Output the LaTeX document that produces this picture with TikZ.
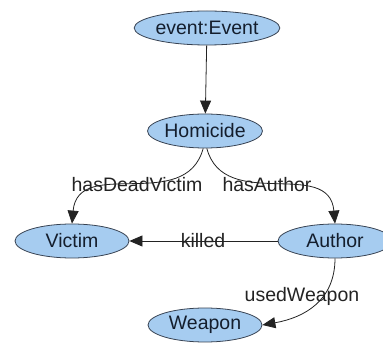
\documentclass[tikz,border=0pt]{standalone}
\usepackage{fontspec}
\setmainfont{Liberation Sans}
\usepackage{tikz}
\usetikzlibrary{arrows.meta,positioning,shapes.geometric}
\definecolor{conceptfill}{RGB}{166,204,240}
\definecolor{conceptdraw}{RGB}{55,66,82}
\definecolor{concepttext}{RGB}{20,30,45}
\definecolor{relcolor}{RGB}{35,35,35}

\begin{document}
\begin{tikzpicture}[
    x=1pt, y=-1pt,
    concept/.style={
        ellipse, draw=conceptdraw, thick, fill=conceptfill,
        minimum width=114pt, minimum height=34pt, inner sep=0pt,
        font=\fontsize{19.5}{21}\selectfont, text=concepttext
    },
    relation/.style={-{Triangle[length=13pt,width=11pt]}, thick, relcolor},
    rlabel/.style={font=\fontsize{19.5}{21}\selectfont, text=relcolor, inner sep=1pt}
]
\useasboundingbox (0,0) rectangle (383,347);

% Konzepte
\node[concept, minimum width=138pt] (event) at (207,28) {event:Event};
\node[concept] (homicide) at (205,131) {Homicide};
\node[concept] (victim) at (72,241) {Victim};
\node[concept] (author) at (335,241) {Author};
\node[concept] (weapon) at (205,325) {Weapon};

% Relationen
\draw[relation] (event) -- (homicide);
\draw[relation] (homicide.-96) to[out=-105, in=85, looseness=1.15] (victim.north);
\draw[relation] (homicide.-84) to[out=-75, in=95, looseness=1.15] (author.north);
\draw[relation] (author) -- (victim);
\draw[relation] (author.south) to[out=-90, in=10, looseness=1.1] (weapon.east);

% Beschriftungen
\node[rlabel] (lbdead) at (137,185) {hasDeadVictim};
\node[rlabel] (lbauthor) at (267,185) {hasAuthor};
\node[rlabel] (lbkilled) at (203,241) {killed};
\node[rlabel] (lbweapon) at (302,296) {usedWeapon};

\end{tikzpicture}
\end{document}
